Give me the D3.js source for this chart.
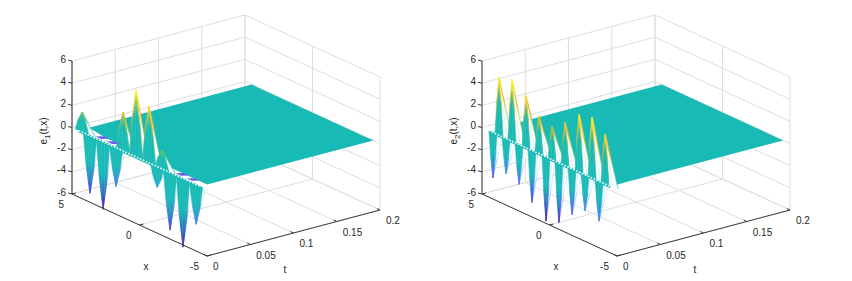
<!DOCTYPE html>
<html>
<head>
<meta charset="utf-8">
<script src="https://cdn.jsdelivr.net/npm/d3@7"></script>
<style>
html, body { margin: 0; padding: 0; background: #fff; }
svg { display: block; }
text { font-family: "Liberation Sans", Arial, sans-serif; font-size: 10px; fill: #262626; }
</style>
</head>
<body>
<svg id="chart" width="852" height="281"></svg>
<script>
var xTicks = [5, 0, -5];
var tTicks = [0, 0.05, 0.1, 0.15, 0.2];
var tTickLabels = ["0", "0.05", "0.1", "0.15", "0.2"];
var zTicks = [6, 4, 2, 0, -2, -4, -6];

// e1 spikes
var e1UpX = [4.26, 1.22, 0.26, -0.70, -1.67];
var e1UpZ = [1.8, 3.5, 6.0, 5.1, 1.7];
var e1DownX = [3.67, 2.70, 1.74, -1.30, -2.26, -3.22, -4.19];
var e1DownZ = [-5.2, -6.1, -3.5, -1.9, -5.2, -6.2, -3.6];
var e1DipX = [3.15, 2.33, -2.78, -3.6];

// e2 spikes
var e2UpX = [3.74, 2.78, 1.74, 0.78, -0.19, -1.15, -2.19, -3.15, -4.11];
var e2UpZ = [5.25, 5.6, 4.7, 3.4, 3.0, 3.9, 5.2, 5.5, 4.5];
var e2DownX = [4.19, 3.22, 2.26, 1.30, 0.26, -0.70, -1.67, -2.63, -3.67];
var e2DownZ = [-4.1, -3.2, -3.6, -4.7, -5.8, -5.4, -4.15, -3.25, -3.6];
var e2DipX = [];

var svg = d3.select("#chart");
var defs = svg.append("defs");

var xFrac = d3.scaleLinear().domain([-5, 5]).range([0, 1]);
var tFrac = d3.scaleLinear().domain([0, 0.2]).range([0, 1]);
var zPx = d3.scaleLinear().domain([-6, 6]).range([0, -133]);

// parula, more or less
var parula = d3.scaleLinear()
    .domain([0, 0.12, 0.25, 0.38, 0.5, 0.62, 0.75, 0.87, 1])
    .range(["#3e26a8", "#4650e8", "#3a8cf0", "#1fb0d8", "#16baB2", "#5cc27a", "#c8bc38", "#fcc43a", "#f9fb15"]);
var TEAL = "#17bab4";
var GRID = "#dedede";
var AXIS = "#3a3a3a";
var gradId = 0;

// faint vertical stripes of the mesh on the steep sheets
var stripes = defs.append("pattern").attr("id", "stripes")
    .attr("patternUnits", "userSpaceOnUse").attr("width", 2.6).attr("height", 4);
stripes.append("rect").attr("width", 0.8).attr("height", 4).attr("fill", "#fff").attr("fill-opacity", 0.09);

function drawPanel(dx, sub, upX, upZ, downX, downZ, dipX, opts) {
    var g = svg.append("g");

    function project(x, t, z) {
        return [dx + 207 - 135 * xFrac(x) + 173 * tFrac(t),
                256 - 62 * xFrac(x) - 46 * tFrac(t) + zPx(z)];
    }
    function seg(layer, a, b, color, w) {
        layer.append("line")
            .attr("x1", a[0]).attr("y1", a[1])
            .attr("x2", b[0]).attr("y2", b[1])
            .attr("stroke", color).attr("stroke-width", w);
    }
    function poly(points) {
        return points.map(function(p) { return p[0].toFixed(2) + "," + p[1].toFixed(2); }).join(" ");
    }
    function zColor(z) { return parula((z + 6) / 12 * opts.cScale + (1 - opts.cScale) / 2); }

    // grid on the two back walls and the floor
    var grid = g.append("g");
    zTicks.forEach(function(z) {
        seg(grid, project(5, 0, z), project(5, 0.2, z), GRID, 1);
        seg(grid, project(5, 0.2, z), project(-5, 0.2, z), GRID, 1);
    });
    tTicks.forEach(function(t) {
        seg(grid, project(5, t, -6), project(5, t, 6), GRID, 1);
        seg(grid, project(5, t, -6), project(-5, t, -6), GRID, 1);
    });
    xTicks.forEach(function(x) {
        seg(grid, project(x, 0.2, -6), project(x, 0.2, 6), GRID, 1);
        seg(grid, project(x, 0, -6), project(x, 0.2, -6), GRID, 1);
    });

    // flat part of the surface
    g.append("polygon")
        .attr("points", poly([project(4.5, opts.plateT, 0), project(3, 0.008, 0), project(-4.5, 0.008, 0),
                              project(-4.5, 0.2, 0), project(4.5, 0.2, 0)]))
        .attr("fill", TEAL);

    // the spikes, far ones first
    var spikes = [];
    upX.forEach(function(x, i) { spikes.push({x: x, z: upZ[i], up: true}); });
    downX.forEach(function(x, i) { spikes.push({x: x, z: downZ[i], up: false}); });
    spikes.sort(function(a, b) { return b.x - a.x; });

    var sheet = g.append("g");
    spikes.forEach(function(d) {
        var id = "g" + (gradId++);
        var tip = project(d.x, 0, d.z);
        var base = project(d.x, 0, 0);
        var half = d.up ? opts.upHalf : opts.downHalf;

        var strokeGrad = defs.append("linearGradient").attr("id", id + "s")
            .attr("gradientUnits", "userSpaceOnUse")
            .attr("x1", 0).attr("x2", 0).attr("y1", tip[1]).attr("y2", base[1]);
        d3.range(6).forEach(function(k) {
            strokeGrad.append("stop").attr("offset", k / 5)
                .attr("stop-color", zColor(d.z * (1 - k / 5)));
        });
        // same colours, washed out towards the plate
        var edgeGrad = defs.append("linearGradient").attr("id", id + "e")
            .attr("gradientUnits", "userSpaceOnUse")
            .attr("x1", 0).attr("x2", 0).attr("y1", tip[1]).attr("y2", base[1]);
        d3.range(6).forEach(function(k) {
            edgeGrad.append("stop").attr("offset", k / 5)
                .attr("stop-color", zColor(d.z * (1 - k / 5)))
                .attr("stop-opacity", k < 3 ? 1 : 0.5);
        });
        var fillGrad = defs.append("linearGradient").attr("id", id + "f")
            .attr("gradientUnits", "userSpaceOnUse")
            .attr("x1", 0).attr("x2", 0).attr("y1", tip[1]).attr("y2", base[1]);
        if (d.up) {
            fillGrad.append("stop").attr("offset", 0).attr("stop-color", d3.interpolateRgb(zColor(d.z), TEAL)(0.3));
            fillGrad.append("stop").attr("offset", 0.4).attr("stop-color", TEAL);
        } else {
            fillGrad.append("stop").attr("offset", 0).attr("stop-color", zColor(d.z));
            fillGrad.append("stop").attr("offset", 0.25).attr("stop-color", d3.interpolateRgb(zColor(d.z), TEAL)(0.6));
            fillGrad.append("stop").attr("offset", 0.55).attr("stop-color", TEAL);
        }

        var left = project(d.x + half, 0, 0);
        var right = project(d.x - half, 0, 0);
        var shL = project(d.x + half * 0.62, 0, d.z * 0.5);
        var shR = project(d.x - half * 0.62, 0, d.z * 0.5);

        // open faces to the right of each spike, only the mesh lines show
        var b = d.up ? project(d.x - 0.85, 0.002, 0) : project(d.x - 0.68, 0, 0);
        var c = project(d.x - (d.up ? 0.6 : 0.45), 0, 0);
        sheet.append("polygon").attr("points", poly([tip, right, b]))
            .attr("fill", "#fff");
        sheet.append("polyline").attr("points", poly([tip, c]))
            .attr("fill", "none").attr("stroke", "url(#" + id + "s)")
            .attr("stroke-width", 0.5).attr("stroke-opacity", 0.4);
        sheet.append("polyline").attr("points", poly([tip, b]))
            .attr("fill", "none").attr("stroke", "url(#" + id + "e)")
            .attr("stroke-width", d.up ? 1.3 : 0.7).attr("stroke-opacity", d.up ? 1 : 0.55);

        var outline = [tip, shL, left, right, shR];
        sheet.append("polygon").attr("points", poly(outline))
            .attr("fill", "url(#" + id + "f)");
        sheet.append("polygon").attr("points", poly(outline))
            .attr("fill", "url(#stripes)");
        sheet.append("polyline").attr("points", poly([left, shL, tip, shR, right]))
            .attr("fill", "none").attr("stroke", "url(#" + id + "e)")
            .attr("stroke-width", d.up ? 1 : 0.8);
    });

    // bluish lumps where the first row dips just under the plate
    dipX.forEach(function(x) {
        g.append("polygon")
            .attr("points", poly([project(x + 0.3, 0.003, 0), project(x + 0.1, 0.009, 0),
                                  project(x - 0.3, 0.009, 0), project(x - 0.1, 0.003, 0)]))
            .attr("fill", "#6a5cec");
    });

    // row at t = 0, a teal band with the white gaps of the mesh on it
    var rowA = project(4.5, 0, 0), rowB = project(-4.5, 0, 0);
    g.append("line")
        .attr("x1", rowA[0]).attr("y1", rowA[1] + 0.6).attr("x2", rowB[0]).attr("y2", rowB[1] + 0.6)
        .attr("stroke", TEAL).attr("stroke-width", 2.4);
    g.append("line")
        .attr("x1", rowA[0]).attr("y1", rowA[1]).attr("x2", rowB[0]).attr("y2", rowB[1])
        .attr("stroke", "#fff").attr("stroke-width", 1.5).attr("stroke-dasharray", "1.7 1.5");

    // axes
    var axes = g.append("g");
    seg(axes, project(5, 0, -6), project(5, 0, 6), opts.zAxisColor, opts.zAxisWidth);
    seg(axes, project(5, 0, -6), project(-5, 0, -6), AXIS, 1);
    seg(axes, project(-5, 0, -6), project(-5, 0.2, -6), AXIS, 1);

    zTicks.forEach(function(z) {
        var p = project(5, 0, z);
        seg(axes, p, [p[0] - 4, p[1] - 1], AXIS, 1);
        g.append("text").attr("x", p[0] - 6).attr("y", p[1] + 1.5)
            .attr("text-anchor", "end").text(z);
    });
    xTicks.forEach(function(x) {
        var p = project(x, 0, -6);
        seg(axes, p, [p[0] + 4, p[1] - 1], AXIS, 1);
        g.append("text").attr("x", p[0] - 8).attr("y", p[1] + 14)
            .attr("text-anchor", "end").text(x);
    });
    tTicks.forEach(function(t, i) {
        var p = project(-5, t, -6);
        seg(axes, p, [p[0] - 3, p[1] - 1.5], AXIS, 1);
        g.append("text").attr("x", p[0] + 6).attr("y", p[1] + 14)
            .attr("text-anchor", "start").text(tTickLabels[i]);
    });

    g.append("text").attr("x", dx + 146).attr("y", 270).attr("text-anchor", "middle").text("x");
    g.append("text").attr("x", dx + 285).attr("y", 273).attr("text-anchor", "middle").text("t");

    var yl = g.append("text")
        .attr("transform", "translate(" + (dx + 47) + ",131) rotate(-90)")
        .attr("text-anchor", "middle");
    yl.append("tspan").text("e");
    yl.append("tspan").attr("dy", 3).style("font-size", "8px").text(sub);
    yl.append("tspan").attr("dy", -3).text("(t,x)");
}

drawPanel(0, "1", e1UpX, e1UpZ, e1DownX, e1DownZ, e1DipX,
    {plateT: 0.012, upHalf: 0.5, downHalf: 0.5, cScale: 1, zAxisColor: "#8a8a8a", zAxisWidth: 2});
drawPanel(410, "2", e2UpX, e2UpZ, e2DownX, e2DownZ, e2DipX,
    {plateT: 0.036, upHalf: 0.3, downHalf: 0.3, cScale: 1.1, zAxisColor: AXIS, zAxisWidth: 1});
</script>
</body>
</html>
